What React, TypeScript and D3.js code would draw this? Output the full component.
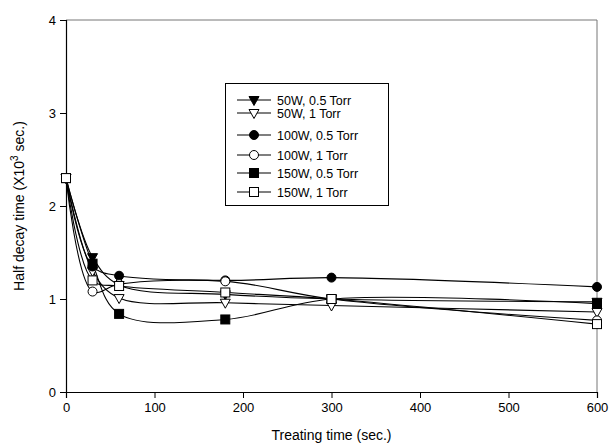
import React, { useEffect, useRef } from 'react';
import * as d3 from 'd3';

const times = [0, 30, 60, 180, 300, 600];
const seriesNames = ['50W, 0.5 Torr', '50W, 1 Torr', '100W, 0.5 Torr', '100W, 1 Torr', '150W, 0.5 Torr', '150W, 1 Torr'];
const w50p5 = [2.3, 1.45, 1.15, 1.05, 1.0, 0.97];
const w50p1 = [2.3, 1.3, 1.01, 0.96, 0.93, 0.86];
const w100p5 = [2.3, 1.35, 1.25, 1.2, 1.23, 1.13];
const w100p1 = [2.3, 1.08, 1.16, 1.19, 1.0, 0.77];
const w150p5 = [2.3, 1.38, 0.84, 0.78, 1.0, 0.95];
const w150p1 = [2.3, 1.2, 1.14, 1.07, 1.0, 0.73];
const xTicks = [0, 100, 200, 300, 400, 500, 600];
const yTicks = [0, 1, 2, 3, 4];

// marker kind per series
const markers = [
  { shape: 'tri', filled: true },
  { shape: 'tri', filled: false },
  { shape: 'circle', filled: true },
  { shape: 'circle', filled: false },
  { shape: 'square', filled: true },
  { shape: 'square', filled: false },
];

const App = () => {
  const svgRef = useRef<SVGSVGElement>(null);

  useEffect(() => {
    const width = 611;
    const height = 448;
    const margin = { top: 20, right: 14, bottom: 56, left: 66 };
    const iw = width - margin.left - margin.right;
    const ih = height - margin.top - margin.bottom;

    svgRef.current!.innerHTML = '';
    const root = d3.select(svgRef.current)
      .attr('width', width)
      .attr('height', height)
      .style('font-family', 'Arial, "Liberation Sans", sans-serif');

    root.append('rect').attr('width', width).attr('height', height).attr('fill', '#fff');

    const svg = root.append('g').attr('transform', `translate(${margin.left},${margin.top})`);

    const x = d3.scaleLinear().domain([0, 600]).range([0, iw]);
    const y = d3.scaleLinear().domain([0, 4]).range([ih, 0]);

    // frame top/right
    svg.append('path')
      .attr('d', `M0,0H${iw}V${ih}`)
      .attr('fill', 'none')
      .attr('stroke', '#777')
      .attr('stroke-width', 1);

    const xAxis = svg.append('g')
      .attr('transform', `translate(0,${ih})`)
      .call(d3.axisBottom(x).tickValues(xTicks).tickSize(6).tickPadding(5));
    const yAxis = svg.append('g')
      .call(d3.axisLeft(y).tickValues(yTicks).tickSize(6).tickPadding(4).tickFormat(d3.format('d')));
    [xAxis, yAxis].forEach(a => {
      a.select('.domain').attr('stroke', '#000').attr('stroke-width', 1.2);
      a.selectAll('.tick line').attr('stroke', '#000');
      a.selectAll('.tick text').attr('font-size', 13).attr('fill', '#000')
        .style('font-family', 'Arial, "Liberation Sans", sans-serif');
    });

    const all = [w50p5, w50p1, w100p5, w100p1, w150p5, w150p1];
    const line = d3.line<number>()
      .x((d, i) => x(times[i]))
      .y(d => y(d))
      .curve(d3.curveCatmullRom.alpha(0.5));

    const drawMarker = (g: any, k: number, cx: number, cy: number) => {
      const m = markers[k];
      const fill = m.filled ? '#000' : '#fff';
      if (m.shape === 'circle') {
        g.append('circle').attr('cx', cx).attr('cy', cy).attr('r', 4.5)
          .attr('fill', fill).attr('stroke', '#000').attr('stroke-width', 1);
      } else if (m.shape === 'square') {
        g.append('rect').attr('x', cx - 4.5).attr('y', cy - 4.5).attr('width', 9).attr('height', 9)
          .attr('fill', fill).attr('stroke', '#000').attr('stroke-width', 1);
      } else {
        g.append('path')
          .attr('d', `M${cx - 5},${cy - 3.5}L${cx + 5},${cy - 3.5}L${cx},${cy + 5.5}Z`)
          .attr('fill', fill).attr('stroke', '#000').attr('stroke-width', 1);
      }
    };

    all.forEach(vals => {
      svg.append('path')
        .datum(vals)
        .attr('d', line)
        .attr('fill', 'none')
        .attr('stroke', '#000')
        .attr('stroke-width', 1.1);
    });
    all.forEach((vals, k) => {
      const g = svg.append('g');
      vals.forEach((v, i) => drawMarker(g, k, x(times[i]), y(v)));
    });

    // legend
    const lg = root.append('g');
    lg.append('rect')
      .attr('x', 225.5).attr('y', 83.5).attr('width', 163).attr('height', 122)
      .attr('fill', '#fff').attr('stroke', '#000').attr('stroke-width', 1);
    const rows = [100, 113, 135, 155, 173, 192];
    seriesNames.forEach((name, k) => {
      const ry = rows[k];
      lg.append('line').attr('x1', 237).attr('x2', 271).attr('y1', ry).attr('y2', ry)
        .attr('stroke', '#000').attr('stroke-width', 1.1);
      drawMarker(lg, k, 254, ry);
      lg.append('text').attr('x', 277).attr('y', ry + 4.5).attr('font-size', 12.5)
        .attr('fill', '#000').text(name);
    });

    // axis titles
    root.append('text')
      .attr('x', margin.left + iw / 2).attr('y', 440)
      .attr('text-anchor', 'middle').attr('font-size', 14).attr('fill', '#000')
      .text('Treating time (sec.)');

    const yt = root.append('text')
      .attr('transform', `translate(24,${margin.top + y(2)}) rotate(-90)`)
      .attr('text-anchor', 'middle').attr('font-size', 14).attr('fill', '#000');
    yt.append('tspan').text('Half decay time (X10');
    yt.append('tspan').attr('font-size', 10).attr('dy', -6).text('3');
    yt.append('tspan').attr('dy', 6).text(' sec.)');
  }, []);

  return <svg ref={svgRef} style={{ position: 'absolute', left: 0, top: 0 }}></svg>;
};

export default App;
